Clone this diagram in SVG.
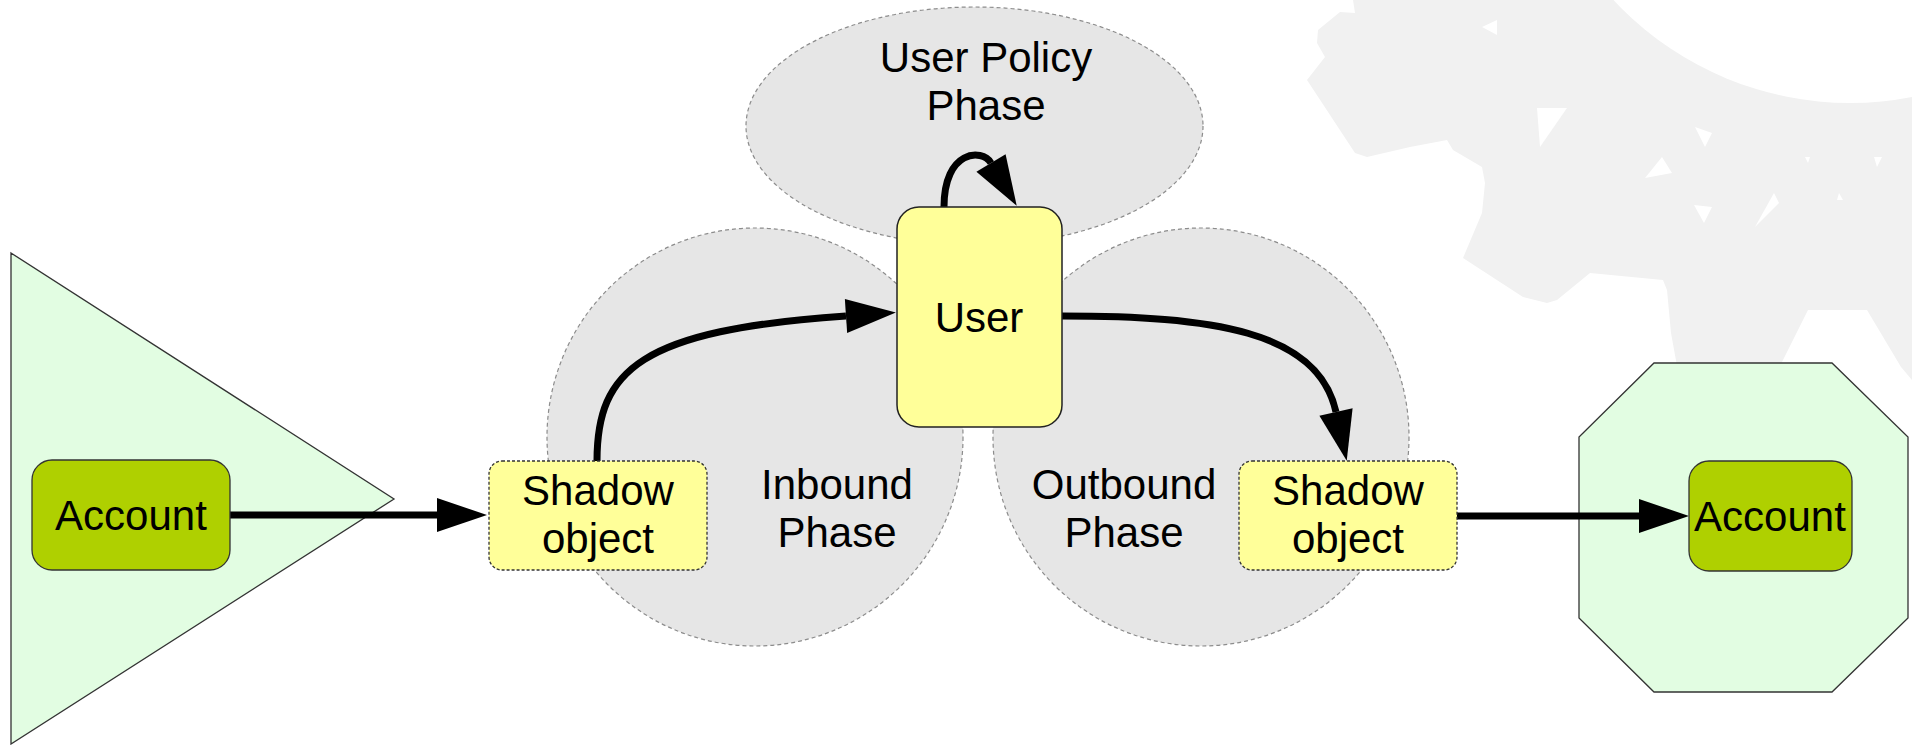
<svg xmlns="http://www.w3.org/2000/svg" width="1912" height="745" viewBox="0 0 1912 745">
<style>
text{font-family:"Liberation Sans",Arial,sans-serif;font-size:42px;fill:#000;text-anchor:middle}
.phase{fill:#e6e6e6;stroke:#8c8c8c;stroke-width:1.2;stroke-dasharray:4,3}
.zone{fill:#e2fde2;stroke:#333;stroke-width:1.3}
.acct{fill:#afd000;stroke:#333;stroke-width:1.3}
.shadow{fill:#ffff99;stroke:#333;stroke-width:1.3;stroke-dasharray:3,2}
.user{fill:#ffff99;stroke:#222;stroke-width:1.5}
.conn{fill:none;stroke:#000;stroke-width:7;marker-end:url(#arr)}
</style>
<defs>
<marker id="arr" markerUnits="userSpaceOnUse" markerWidth="50" markerHeight="34" refX="0" refY="17" orient="auto" overflow="visible">
<path d="M0,0 L50,17 L0,34 Z" fill="#000"/>
</marker>
</defs>
<rect width="1912" height="745" fill="#fff"/>
<g id="watermark">
<path fill="#f1f1f1" d="M1353,0 L1912,0 L1912,380 L1901,367 L1867,310 L1808,310 L1780,366 L1677,366 L1671,333 L1667,290 L1663,280 L1590,273 L1557,300 L1547,303 L1523,297 L1463,258 L1482,213 L1485,183 L1482,167 L1453,150 L1447,140 L1410,147 L1367,157 L1355,153 L1307,80 L1325,57 L1317,43 L1318,30 L1340,12 L1355,13 Z"/>
<circle cx="1850" cy="-220" r="323" fill="#fff"/>
<g fill="#fff">
<path d="M1537,108 L1567,108 L1540,147 Z"/>
<path d="M1695,127 L1712,133 L1705,147 Z"/>
<path d="M1662,157 L1672,173 L1645,178 Z"/>
<path d="M1694,205 L1712,207 L1704,223 Z"/>
<path d="M1774,193 L1779,203 L1755,227 Z"/>
<path d="M1482,27 L1497,20 L1497,35 Z"/>
<path d="M1805,157 L1810,157 L1808,163 Z"/>
<path d="M1874,157 L1882,157 L1877,167 Z"/>
<path d="M1839,193 L1843,200 L1837,200 Z"/>
</g>
</g>
<g id="user-policy-phase">
<ellipse class="phase" cx="974.5" cy="126" rx="228.5" ry="119"/>
<text x="986" y="72">User Policy</text>
<text x="986" y="120">Phase</text>
</g>
<g id="inbound-phase">
<ellipse class="phase" cx="755" cy="437" rx="208" ry="209"/>
<text x="837" y="499">Inbound</text>
<text x="837" y="547">Phase</text>
</g>
<g id="outbound-phase">
<ellipse class="phase" cx="1201" cy="437" rx="208" ry="209"/>
<text x="1124" y="499">Outbound</text>
<text x="1124" y="547">Phase</text>
</g>
<g id="source-resource">
<path class="zone" d="M11,253 L394,499 L11,744 Z"/>
</g>
<g id="target-resource">
<path class="zone" d="M1654,363 L1832,363 L1908,437 L1908,618 L1832,692 L1654,692 L1579,618 L1579,437 Z"/>
</g>
<g id="connectors">
<path class="conn" d="M230,515 L437,515"/>
<path class="conn" d="M597,461 C597,370 640,330 846,316"/>
<path class="conn" d="M944,207 C944,150 982,148 991,163"/>
<path class="conn" d="M1062,316 C1210,316 1318,330 1336,412"/>
<path class="conn" d="M1457,516 L1639,516"/>
</g>
<g id="account-source">
<rect class="acct" x="32" y="460" width="198" height="110" rx="20"/>
<text x="131" y="530">Account</text>
</g>
<g id="shadow-inbound">
<rect class="shadow" x="489" y="461" width="218" height="109" rx="13"/>
<text x="598" y="505">Shadow</text>
<text x="598" y="553">object</text>
</g>
<g id="user">
<rect class="user" x="897" y="207" width="165" height="220" rx="22"/>
<text x="979" y="332">User</text>
</g>
<g id="shadow-outbound">
<rect class="shadow" x="1239" y="461" width="218" height="109" rx="13"/>
<text x="1348" y="505">Shadow</text>
<text x="1348" y="553">object</text>
</g>
<g id="account-target">
<rect class="acct" x="1689" y="461" width="163" height="110" rx="20"/>
<text x="1770" y="531">Account</text>
</g>
</svg>
